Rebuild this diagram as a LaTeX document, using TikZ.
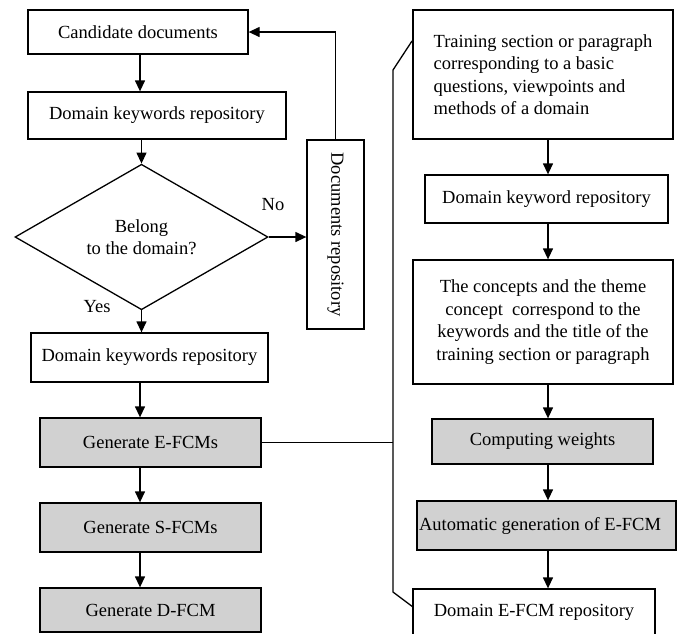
\documentclass[tikz,border=0pt]{standalone}
\usepackage{fontspec}
\setmainfont{Liberation Serif}
\usepackage{graphicx}
\usetikzlibrary{shapes.geometric,arrows.meta}
\definecolor{boxgray}{RGB}{209,209,209}
\begin{document}
\begin{tikzpicture}[x=1pt,y=-1pt,
  every node/.style={font=\fontsize{18.5}{22.5}\selectfont},
  box/.style={draw, line width=1.3pt, inner sep=2pt, align=center},
  shaded/.style={box, fill=boxgray},
  arr/.style={line width=1.3pt, -{Triangle[length=11pt,width=10pt]}},
  link/.style={line width=1.3pt},
  lbl/.style={inner sep=0pt}]
\useasboundingbox (0,0) rectangle (678,633);

% vertical axes of the two columns
\coordinate (lspine) at (140,0);
\coordinate (rspine) at (548,0);

% ---- left column: document filtering and FCM generation
\node[box, minimum width=220pt, minimum height=44pt] (cand) at (138,32) {Candidate documents};
\node[box, minimum width=258pt, minimum height=47pt] (kw1) at (157,115.5) {Domain keywords repository};
\node[draw, line width=1.3pt, diamond, inner sep=0pt, align=center,
      minimum width=253pt, minimum height=120pt] (dia) at (141.5,237) {Belong\\to the domain?};
\node[box, minimum width=57pt, minimum height=189pt] (docs) at (335.5,234.5)
      {\rotatebox{-90}{Documents repository}};
\node[box, minimum width=237pt, minimum height=49pt] (kw2) at (149.5,357.5) {Domain keywords repository};
\node[shaded, minimum width=221pt, minimum height=49pt] (efcm) at (150.5,442.5) {Generate E-FCMs};
\node[shaded, minimum width=221pt, minimum height=49pt] (sfcm) at (150.5,527.5) {Generate S-FCMs};
\node[shaded, minimum width=221pt, minimum height=44pt] (dfcm) at (150.5,610) {Generate D-FCM};

\node[lbl] (no) at (273,205) {No};
\node[lbl] (yes) at (97,307) {Yes};

\draw[arr] (cand.south -| lspine) -- (kw1.north -| lspine);
\draw[arr] (kw1.south -| dia.north) -- (dia.north);
\draw[arr] (dia.east) -- (dia.east -| docs.west);
\draw[arr] (docs.north) |- (cand.east);
\draw[arr] (dia.south) -- (dia.south |- kw2.north);
\draw[arr] (kw2.south -| lspine) -- (efcm.north -| lspine);
\draw[arr] (efcm.south -| lspine) -- (sfcm.north -| lspine);
\draw[arr] (sfcm.south -| lspine) -- (dfcm.north -| lspine);

% ---- right column: E-FCM generation from a training section
\node[box, minimum width=260pt, minimum height=129pt, align=left] (train) at (543,74.5)
      {Training section or paragraph\\corresponding to a basic\\questions, viewpoints and\\methods of a domain};
\node[box, minimum width=243pt, minimum height=48pt] (kwr) at (546.5,199) {Domain keyword repository};
\node[box, minimum width=260pt, minimum height=124pt] (conc) at (543,322)
      {The concepts and the theme\\concept~ correspond to the\\keywords and the title of the\\training section or paragraph};
\node[shaded, minimum width=221pt, minimum height=45pt] (cw) at (542.5,441.5) {Computing weights};
\node[shaded, minimum width=259pt, minimum height=49pt] (auto) at (546.5,525.5)
      {\makebox[255pt][l]{Automatic generation of E-FCM}};
\node[box, minimum width=242pt, minimum height=46pt] (repo) at (534,612) {Domain E-FCM repository};

\draw[arr] (train.south -| rspine) -- (kwr.north -| rspine);
\draw[arr] (kwr.south -| rspine) -- (conc.north -| rspine);
\draw[arr] (conc.south -| rspine) -- (cw.north -| rspine);
\draw[arr] (cw.south -| rspine) -- (auto.north -| rspine);
\draw[arr] (auto.south -| rspine) -- (repo.north -| rspine);

% bracket that ties the right column to "Generate E-FCMs"
\coordinate (b1) at (412,41);
\coordinate (b2) at (393,70);
\coordinate (b3) at (393,592);
\coordinate (b4) at (413,607);
\draw[link] (b1) -- (b2) -- (b3) -- (b4);
\draw[link] (efcm.east) -- (efcm.east -| b2);
\end{tikzpicture}
\end{document}
